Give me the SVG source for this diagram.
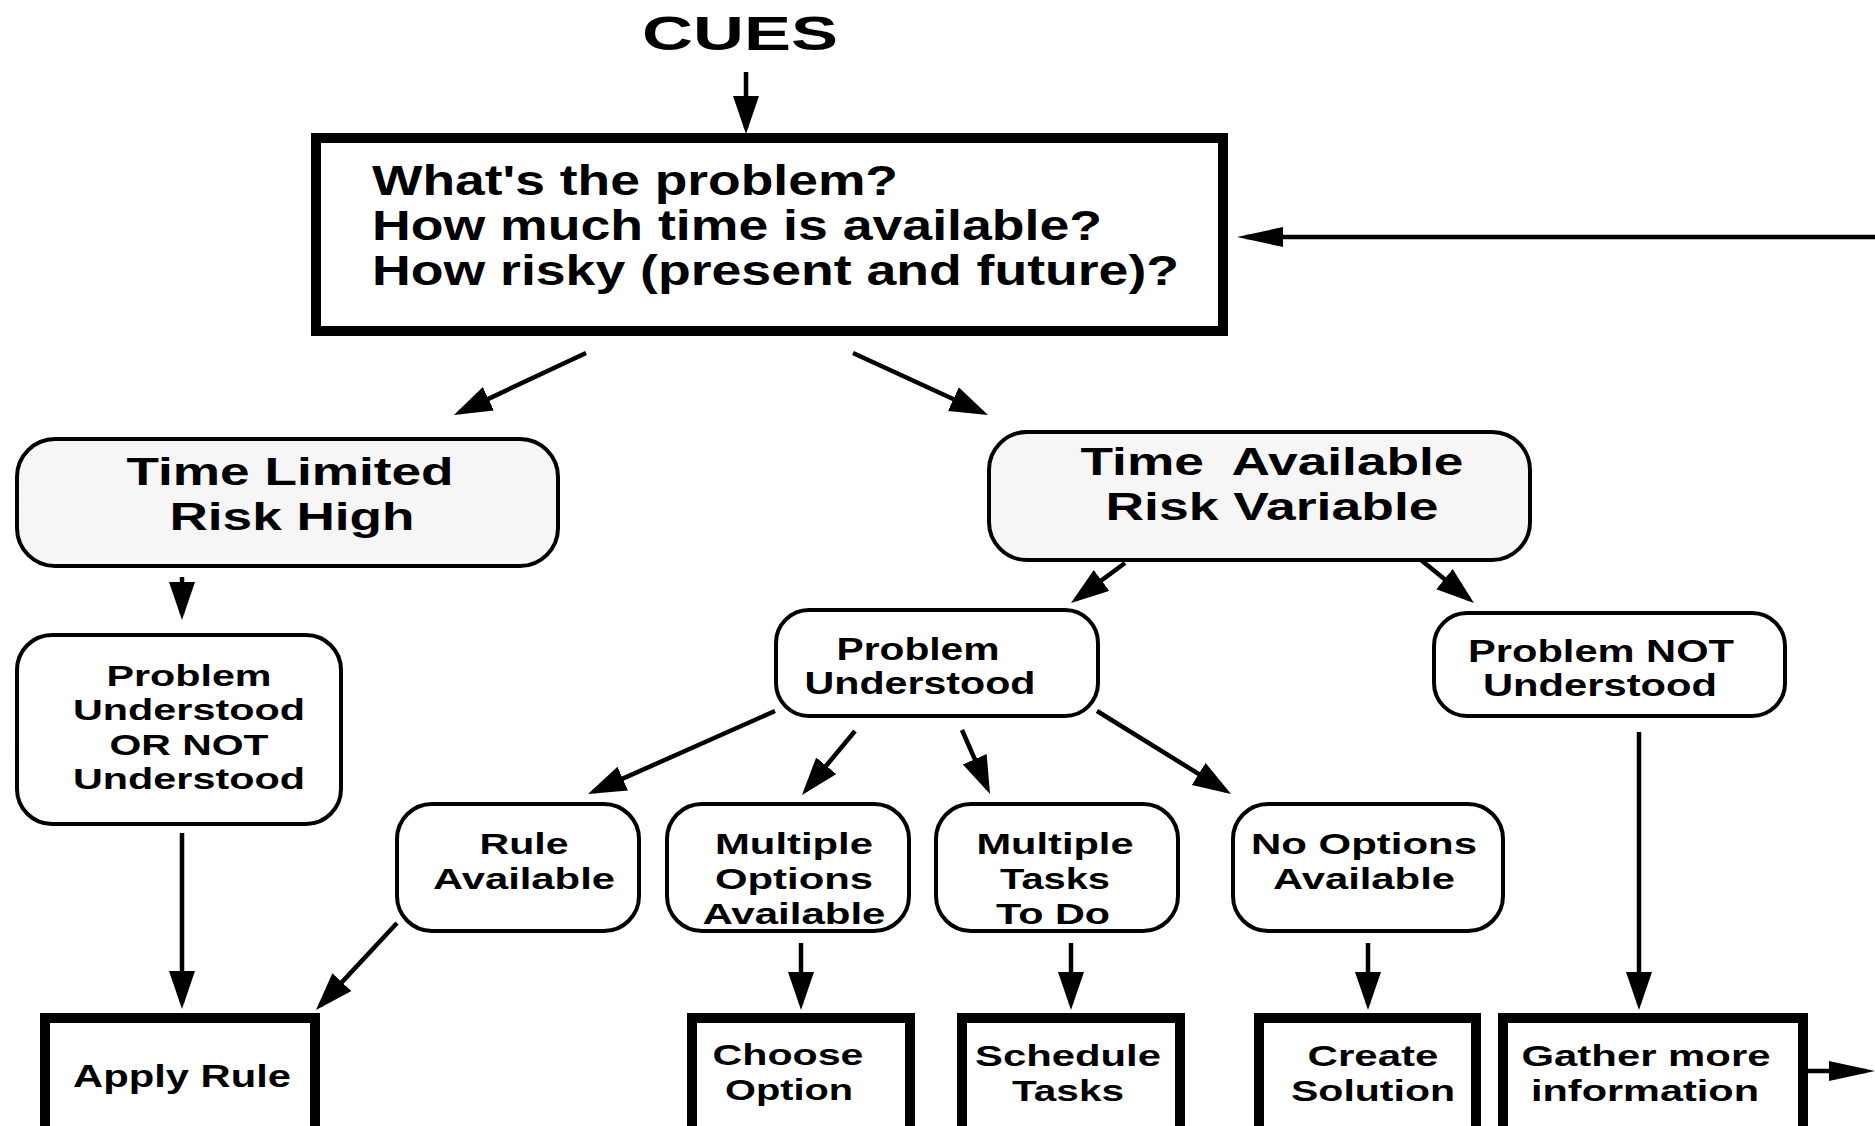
<svg xmlns="http://www.w3.org/2000/svg" width="1875" height="1126" viewBox="0 0 1875 1126">
<style>
text{font-family:"Liberation Sans",Arial,Helvetica,sans-serif;font-weight:bold;fill:#000;text-anchor:middle}
.t42{font-size:42px;text-anchor:start}
.t38{font-size:38px}
.t31{font-size:31px}
.t30{font-size:30px}
.round{fill:#fff;stroke:#000;stroke-width:4}
.shade{fill:#f6f6f6}
.thick{fill:#fff;stroke:#000;stroke-width:10}
.conn line{stroke:#000;stroke-width:4.5;fill:none}
</style>
<defs>
<marker id="ah" markerUnits="userSpaceOnUse" markerWidth="40" markerHeight="28" refX="32" refY="13" orient="auto">
<path d="M0,0 L38,13 L0,26 z" fill="#000"/>
</marker>
<marker id="ahl" markerUnits="userSpaceOnUse" markerWidth="48" markerHeight="22" refX="37" refY="10" orient="auto">
<path d="M0,0 L46,10 L0,20 z" fill="#000"/>
</marker>
</defs>
<rect width="1875" height="1126" fill="#fff"/>

<g id="cues">
<text x="740" y="50" style="font-size:49px" textLength="196" lengthAdjust="spacingAndGlyphs">CUES</text>
</g>

<g id="questions">
<rect class="thick" x="316" y="138" width="907" height="193"/>
<text class="t42" x="372" y="195" textLength="526" lengthAdjust="spacingAndGlyphs">What's the problem?</text>
<text class="t42" x="372" y="240" textLength="730" lengthAdjust="spacingAndGlyphs">How much time is available?</text>
<text class="t42" x="372" y="285" textLength="807" lengthAdjust="spacingAndGlyphs">How risky (present and future)?</text>
</g>

<g id="time-limited">
<rect class="round shade" x="17" y="439" width="541" height="127" rx="38"/>
<text class="t38" x="290" y="485" textLength="327" lengthAdjust="spacingAndGlyphs">Time Limited</text>
<text class="t38" x="292" y="530" textLength="245" lengthAdjust="spacingAndGlyphs">Risk High</text>
</g>

<g id="time-available">
<rect class="round shade" x="989" y="432" width="541" height="128" rx="38"/>
<text class="t38" x="1272" y="475" textLength="383" lengthAdjust="spacingAndGlyphs" xml:space="preserve">Time  Available</text>
<text class="t38" x="1272" y="520" textLength="333" lengthAdjust="spacingAndGlyphs">Risk Variable</text>
</g>

<g id="problem-or-not">
<rect class="round" x="17" y="635" width="324" height="189" rx="35"/>
<text class="t30" x="189" y="686" textLength="165" lengthAdjust="spacingAndGlyphs">Problem</text>
<text class="t30" x="189" y="720" textLength="232" lengthAdjust="spacingAndGlyphs">Understood</text>
<text class="t30" x="189" y="755" textLength="159" lengthAdjust="spacingAndGlyphs">OR NOT</text>
<text class="t30" x="189" y="789" textLength="232" lengthAdjust="spacingAndGlyphs">Understood</text>
</g>

<g id="problem-understood">
<rect class="round" x="776" y="610" width="322" height="106" rx="33"/>
<text class="t31" x="918" y="660" textLength="163" lengthAdjust="spacingAndGlyphs">Problem</text>
<text class="t31" x="920" y="694" textLength="231" lengthAdjust="spacingAndGlyphs">Understood</text>
</g>

<g id="problem-not-understood">
<rect class="round" x="1434" y="613" width="351" height="103" rx="33"/>
<text class="t31" x="1601" y="662" textLength="266" lengthAdjust="spacingAndGlyphs">Problem NOT</text>
<text class="t31" x="1600" y="696" textLength="234" lengthAdjust="spacingAndGlyphs">Understood</text>
</g>

<g id="rule-available">
<rect class="round" x="397" y="804" width="242" height="127" rx="35"/>
<text class="t30" x="524" y="854" textLength="89" lengthAdjust="spacingAndGlyphs">Rule</text>
<text class="t30" x="524" y="889" textLength="182" lengthAdjust="spacingAndGlyphs">Available</text>
</g>

<g id="multiple-options">
<rect class="round" x="667" y="804" width="242" height="127" rx="35"/>
<text class="t30" x="794" y="854" textLength="158" lengthAdjust="spacingAndGlyphs">Multiple</text>
<text class="t30" x="794" y="889" textLength="158" lengthAdjust="spacingAndGlyphs">Options</text>
<text class="t30" x="794" y="924" textLength="183" lengthAdjust="spacingAndGlyphs">Available</text>
</g>

<g id="multiple-tasks">
<rect class="round" x="936" y="804" width="242" height="127" rx="35"/>
<text class="t30" x="1055" y="854" textLength="157" lengthAdjust="spacingAndGlyphs">Multiple</text>
<text class="t30" x="1055" y="889" textLength="110" lengthAdjust="spacingAndGlyphs">Tasks</text>
<text class="t30" x="1053" y="924" textLength="114" lengthAdjust="spacingAndGlyphs">To Do</text>
</g>

<g id="no-options">
<rect class="round" x="1233" y="804" width="270" height="127" rx="35"/>
<text class="t30" x="1364" y="854" textLength="226" lengthAdjust="spacingAndGlyphs">No Options</text>
<text class="t30" x="1364" y="889" textLength="182" lengthAdjust="spacingAndGlyphs">Available</text>
</g>

<g id="apply-rule">
<rect class="thick" x="45" y="1018" width="270" height="130"/>
<text class="t31" x="182" y="1087" textLength="218" lengthAdjust="spacingAndGlyphs">Apply Rule</text>
</g>

<g id="choose-option">
<rect class="thick" x="692" y="1018" width="218" height="130"/>
<text class="t30" x="788" y="1065" textLength="151" lengthAdjust="spacingAndGlyphs">Choose</text>
<text class="t30" x="789" y="1100" textLength="128" lengthAdjust="spacingAndGlyphs">Option</text>
</g>

<g id="schedule-tasks">
<rect class="thick" x="962" y="1018" width="218" height="130"/>
<text class="t30" x="1068" y="1066" textLength="186" lengthAdjust="spacingAndGlyphs">Schedule</text>
<text class="t30" x="1068" y="1101" textLength="112" lengthAdjust="spacingAndGlyphs">Tasks</text>
</g>

<g id="create-solution">
<rect class="thick" x="1259" y="1018" width="217" height="130"/>
<text class="t30" x="1373" y="1066" textLength="131" lengthAdjust="spacingAndGlyphs">Create</text>
<text class="t30" x="1373" y="1101" textLength="164" lengthAdjust="spacingAndGlyphs">Solution</text>
</g>

<g id="gather-info">
<rect class="thick" x="1503" y="1018" width="300" height="130"/>
<text class="t30" x="1646" y="1066" textLength="249" lengthAdjust="spacingAndGlyphs">Gather more</text>
<text class="t30" x="1645" y="1101" textLength="228" lengthAdjust="spacingAndGlyphs">information</text>
</g>

<g id="connectors" class="conn">
<line x1="746" y1="72" x2="746" y2="128" marker-end="url(#ah)"/>
<line x1="1875" y1="237" x2="1246" y2="237" marker-end="url(#ahl)"/>
<line x1="586" y1="353" x2="459.4" y2="412.4" marker-end="url(#ah)"/>
<line x1="853" y1="353" x2="982.5" y2="412.5" marker-end="url(#ah)"/>
<line x1="182" y1="577" x2="182" y2="614" marker-end="url(#ah)"/>
<line x1="1125" y1="563" x2="1075.8" y2="599.4" marker-end="url(#ah)"/>
<line x1="1421" y1="560" x2="1469.3" y2="599.2" marker-end="url(#ah)"/>
<line x1="775" y1="711" x2="593.5" y2="791.6" marker-end="url(#ah)"/>
<line x1="855" y1="731" x2="805.8" y2="790.4" marker-end="url(#ah)"/>
<line x1="962" y1="730" x2="987.6" y2="788.5" marker-end="url(#ah)"/>
<line x1="1097" y1="711" x2="1225.9" y2="790.8" marker-end="url(#ah)"/>
<line x1="182" y1="833" x2="182" y2="1003" marker-end="url(#ah)"/>
<line x1="397" y1="923" x2="320.1" y2="1005.6" marker-end="url(#ah)"/>
<line x1="801" y1="943" x2="801" y2="1004" marker-end="url(#ah)"/>
<line x1="1071" y1="943" x2="1071" y2="1004" marker-end="url(#ah)"/>
<line x1="1368" y1="943" x2="1368" y2="1004" marker-end="url(#ah)"/>
<line x1="1639" y1="732" x2="1639" y2="1004" marker-end="url(#ah)"/>
<line x1="1808" y1="1071" x2="1866" y2="1071" marker-end="url(#ahl)"/>
</g>
</svg>
